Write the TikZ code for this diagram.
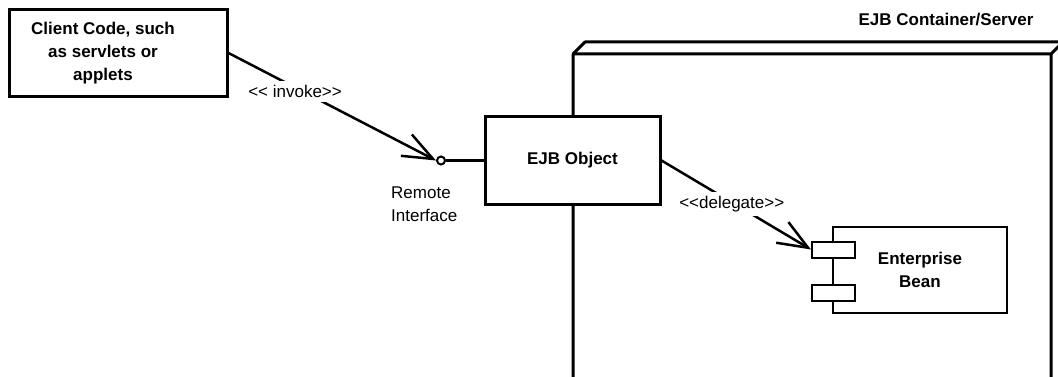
\documentclass[tikz,border=0pt]{standalone}
\usepackage{fontspec}
\setmainfont{Liberation Sans}
\usetikzlibrary{arrows.meta}
\newcommand{\txtsize}{\fontsize{17}{23}\selectfont}
\newcommand{\stereo}[1]{<\kern0pt<#1>\kern0pt>}
\tikzset{
  every node/.style={font=\txtsize},
  box/.style={draw, line width=3pt, fill=white, inner sep=0pt, font=\txtsize\bfseries},
  port/.style={draw, line width=2pt, fill=white, minimum width=43pt, minimum height=16pt, inner sep=0pt},
  link/.style={line width=2.5pt, -{Straight Barb[length=30pt,width=24pt]}},
  tag/.style={fill=white, inner xsep=3pt, inner ysep=4pt},
}
\begin{document}
\begin{tikzpicture}[x=1pt,y=-1pt]
  \clip (0,0) rectangle (1058,377);
  % container (3d box, cut off at the bottom)
  \draw[line width=3pt, line join=round] (573,390)--(573,54)--(1051,54)--(1051,390)
    (573,54)--(585,42)--(1063,42)--(1051,54) (1063,42)--(1063,378)--(1051,390);
  \node[font=\txtsize\bfseries] (srv) at (946,20) {EJB Container/Server};
  % boxes
  \node[box, minimum width=218pt, minimum height=87pt,
    label={[align=center, xshift=-15pt, font=\txtsize\bfseries]center:Client Code, such\\as servlets or\\applets}]
    (client) at (118,53) {};
  \node[box, minimum width=175pt, minimum height=87pt] (obj) at (572.5,160.5) {EJB Object};
  \node[draw, line width=2pt, fill=white, minimum width=174pt, minimum height=86pt,
    align=center, font=\txtsize\bfseries] (bean) at (920,270) {Enterprise\\ Bean};
  \node[port] (p1) at (833.5,249.5) {};
  \node[port] (p2) at (833.5,293) {};
  % remote interface
  \node[circle, draw, line width=2pt, fill=white, minimum size=8pt, inner sep=0pt] (iface) at (441,160.5) {};
  \node[anchor=west, align=left, inner sep=0pt] (ri) at (391,204) {Remote\\Interface};
  % connectors
  \draw[line width=2.5pt] (iface) -- (obj.west);
  \draw[link] (client.east) -- (iface.west)
    node[tag, pos=0.34, xshift=-4pt, yshift=-2pt] (inv) {\stereo{ invoke}};
  \draw[link] (obj.east) -- (p1.west)
    node[tag, pos=0.47, yshift=-2pt] (del) {\stereo{delegate}};
\end{tikzpicture}
\end{document}
